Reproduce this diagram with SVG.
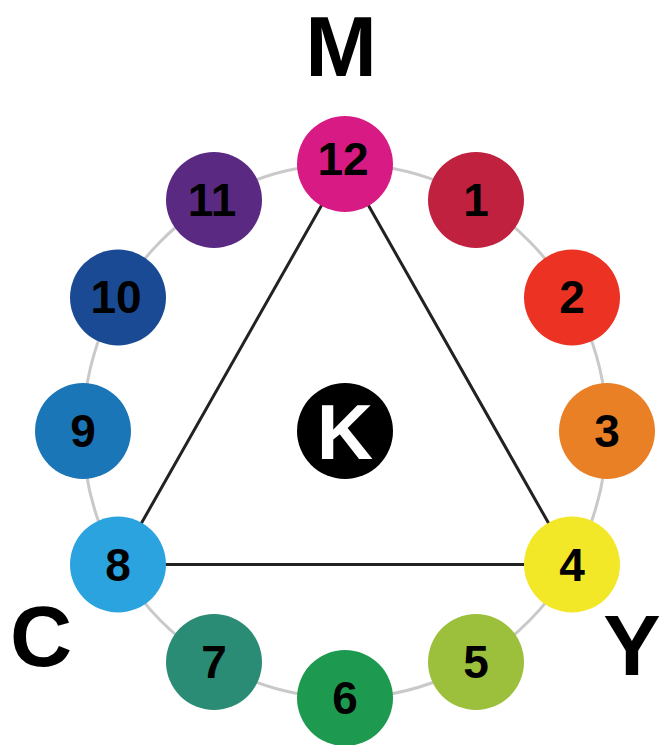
<svg xmlns="http://www.w3.org/2000/svg" width="662" height="745" viewBox="0 0 662 745">
<style>
.n{font-family:"Liberation Sans",Arial,sans-serif;font-weight:bold;font-size:46px;fill:#000;text-anchor:middle}
.big{font-family:"Liberation Sans",Arial,sans-serif;font-weight:bold;font-size:86px;fill:#000;text-anchor:middle}
.ring{fill:none;stroke:#c9c9c9;stroke-width:3}
.tri{fill:none;stroke:#222;stroke-width:3}
</style>
<rect width="662" height="745" fill="#fff"/>
<g id="connectors">
<ellipse class="ring" cx="345" cy="431" rx="262" ry="267"/>
<polygon class="tri" points="345,164 572,564.5 118,564.5"/>
</g>
<g id="n12"><circle cx="345" cy="164" r="48" fill="#d81b84"/><text class="n" x="343" y="175">12</text></g>
<g id="n1"><circle cx="476" cy="200" r="48" fill="#c0213f"/><text class="n" x="476" y="216">1</text></g>
<g id="n2"><circle cx="572" cy="297.5" r="48" fill="#ec3323"/><text class="n" x="572" y="313">2</text></g>
<g id="n3"><circle cx="607" cy="431" r="48" fill="#e98025"/><text class="n" x="607" y="447">3</text></g>
<g id="n4"><circle cx="572" cy="564.5" r="48" fill="#f3e828"/><text class="n" x="572" y="581">4</text></g>
<g id="n5"><circle cx="476" cy="662" r="48" fill="#9cbf3c"/><text class="n" x="476" y="678">5</text></g>
<g id="n6"><circle cx="345" cy="698" r="48" fill="#1e9a50"/><text class="n" x="345" y="714">6</text></g>
<g id="n7"><circle cx="214" cy="662" r="48" fill="#2a8c74"/><text class="n" x="214" y="678">7</text></g>
<g id="n8"><circle cx="118" cy="564.5" r="48" fill="#2ba3df"/><text class="n" x="118" y="581">8</text></g>
<g id="n9"><circle cx="83" cy="431" r="48" fill="#1b76b8"/><text class="n" x="83" y="447">9</text></g>
<g id="n10"><circle cx="118" cy="297.5" r="48" fill="#1a4a94"/><text class="n" x="116" y="313">10</text></g>
<g id="n11"><circle cx="214" cy="200" r="48" fill="#5a2a83"/><text class="n" x="212" y="216">11</text></g>
<g id="K"><circle cx="345" cy="431" r="48" fill="#000"/><text class="n" x="345" y="459" style="fill:#fff;font-size:78px">K</text></g>
<g id="labels">
<text class="big" x="341" y="76">M</text>
<text class="big" x="41" y="666">C</text>
<text class="big" x="632" y="675">Y</text>
</g>
</svg>
